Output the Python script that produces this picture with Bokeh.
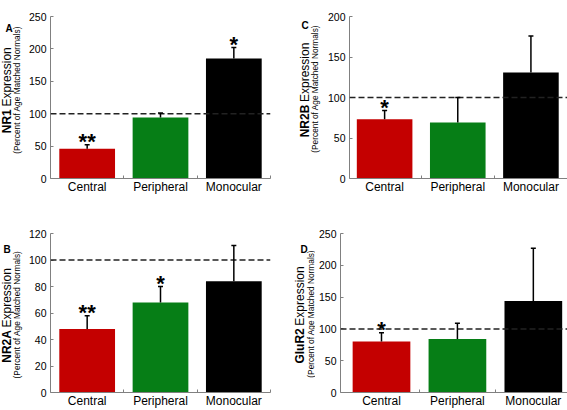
import math
from bokeh.plotting import figure
from bokeh.layouts import column, row
from bokeh.models import (ColumnDataSource, Range1d, FixedTicker, Span,
                          Whisker, TeeHead)
from bokeh.core.properties import value
from bokeh.embed import file_html
from bokeh.resources import INLINE

# ---------------- data ----------------
categories = ["Central", "Peripheral", "Monocular"]
bar_colors = ["#c40000", "#067e16", "#000000"]
reference_level = 100

nr1_mean = [46, 94, 185]
nr1_upper = [52, 101, 202]
nr1_stars = ["**", "", "*"]
nr1_ticks = [0, 50, 100, 150, 200, 250]

nr2a_mean = [48, 68, 84]
nr2a_upper = [58, 80, 111]
nr2a_stars = ["**", "*", ""]
nr2a_ticks = [0, 20, 40, 60, 80, 100, 120]

nr2b_mean = [73, 69, 131]
nr2b_upper = [84, 100, 176]
nr2b_stars = ["*", "", ""]
nr2b_ticks = [0, 50, 100, 150, 200]

glur2_mean = [80, 84, 144]
glur2_upper = [94, 109, 227]
glur2_stars = ["*", "", ""]
glur2_ticks = [0, 50, 100, 150, 200, 250]

subtitle = "(Percent of Age Matched Normals)"
word = "Expression"

FONT = "Liberation Sans"
AXIS_GRAY = "#808080"

# approximate Arial / Liberation Sans advance widths (em)
BOLD_W = {"N": .722, "R": .722, "1": .556, "2": .556, "A": .722, "B": .722,
          "G": .778, "l": .278, "u": .611}
REG_W = {"E": .667, "x": .5, "p": .556, "r": .333, "e": .556, "s": .5,
         "i": .222, "o": .556, "n": .556, " ": .278}


def text_width(s, table, size):
    return sum(table.get(c, .556) for c in s) * size


def bare_fig(width, height):
    f = figure(width=width, height=height, output_backend="svg",
               toolbar_location=None, tools="",
               x_range=Range1d(0, width), y_range=Range1d(0, height),
               x_axis_location=None, y_axis_location=None,
               min_border_left=0, min_border_right=0,
               min_border_top=0, min_border_bottom=0)
    f.outline_line_color = None
    f.background_fill_color = "white"
    f.border_fill_color = "white"
    f.xgrid.visible = False
    f.ygrid.visible = False
    f.grid.grid_line_color = None
    return f


def label_fig(width, height, receptor, frame_bottom, fh, main_x, sub_x,
              letter, letter_x, letter_top):
    f = bare_fig(width, height)
    main_size = 12
    bw = text_width(receptor, BOLD_W, main_size)
    sw = text_width(" ", REG_W, main_size)
    ew = text_width(word, REG_W, main_size)
    yc = frame_bottom + fh / 2
    ysplit = yc - (bw + sw + ew) / 2 + bw
    f.text(x=[main_x], y=[ysplit], text=[receptor], angle=math.pi / 2,
           text_font=value(FONT), text_font_size=f"{main_size}px",
           text_font_style="bold", text_align="right",
           text_baseline="middle", text_color="black")
    f.text(x=[main_x], y=[ysplit + sw], text=[word], angle=math.pi / 2,
           text_font=value(FONT), text_font_size=f"{main_size}px",
           text_align="left", text_baseline="middle", text_color="black")
    f.text(x=[sub_x], y=[yc + 5], text=[subtitle], angle=math.pi / 2,
           text_font=value(FONT), text_font_size="8.3px",
           text_align="center", text_baseline="middle", text_color="black")
    f.text(x=[letter_x], y=[height - letter_top], text=[letter],
           text_font=value(FONT), text_font_size="10px",
           text_font_style="bold", text_align="left",
           text_baseline="top", text_color="black")
    return f


def bar_fig(mean, upper, stars, ticks, width, height, left, right, top,
            bottom, x_start, x_end):
    p = figure(width=width, height=height, output_backend="svg",
               toolbar_location=None, tools="",
               x_range=Range1d(x_start, x_end),
               y_range=Range1d(0, ticks[-1]),
               min_border_left=left, min_border_right=right,
               min_border_top=top, min_border_bottom=bottom)
    p.outline_line_color = None
    p.xgrid.visible = False
    p.ygrid.visible = False
    p.background_fill_color = "white"
    p.border_fill_color = "white"

    xs = [i + 0.5 for i in range(len(categories))]
    src = ColumnDataSource(dict(x=xs, mean=mean, upper=upper,
                                stars=stars, color=bar_colors))

    p.vbar(x="x", top="mean", bottom=0, width=0.76, source=src,
           fill_color="color", line_color=None)

    p.add_layout(Span(location=reference_level, dimension="width",
                      line_color="#222222", line_width=1.5,
                      line_dash="6 3", level="overlay"))

    p.add_layout(Whisker(base="x", upper="upper", lower="mean", source=src,
                         line_color="black", line_width=1.5,
                         lower_head=None,
                         upper_head=TeeHead(size=5, line_width=1.5,
                                            line_color="black"),
                         level="overlay"))

    p.text(x="x", y="upper", text="stars", source=src,
           text_font=value(FONT), text_font_size="22px",
           text_font_style="bold", text_align="center",
           text_baseline="alphabetic", y_offset=-3, text_color="black")

    ya = p.yaxis[0]
    ya.ticker = FixedTicker(ticks=ticks, minor_ticks=[])
    ya.axis_line_color = AXIS_GRAY
    ya.major_tick_line_color = AXIS_GRAY
    ya.major_tick_in = 3
    ya.major_tick_out = 0
    ya.minor_tick_line_color = None
    ya.major_label_standoff = 4
    ya.major_label_text_font = FONT
    ya.major_label_text_font_size = "10.5px"
    ya.major_label_text_color = "black"

    xa = p.xaxis[0]
    xa.ticker = FixedTicker(ticks=xs, minor_ticks=[1, 2, 3])
    xa.major_label_overrides = {x: c for x, c in zip(xs, categories)}
    xa.axis_line_color = AXIS_GRAY
    xa.major_tick_line_color = None
    xa.major_tick_in = 0
    xa.major_tick_out = 0
    xa.minor_tick_line_color = AXIS_GRAY
    xa.minor_tick_in = 3
    xa.minor_tick_out = 0
    xa.major_label_standoff = 1
    xa.major_label_text_font = FONT
    xa.major_label_text_font_size = "12px"
    xa.major_label_text_color = "black"
    return p


# ---- panel A (top-left) ----
H1, H2 = 205, 205
lA = label_fig(24, H1, "NR1", 25, H1 - 16 - 25, 6, 16.5, "A", 5, 8)
pA = bar_fig(nr1_mean, nr1_upper, nr1_stars, nr1_ticks,
             259, H1, 26, 13, 16, 25, 0, 3)
# ---- panel C (top-right) ----
lC = label_fig(38, H1, "NR2B", 27, H1 - 15 - 27, 21.5, 31, "C", 18, 4)
pC = bar_fig(nr2b_mean, nr2b_upper, nr2b_stars, nr2b_ticks,
             246, H1, 28, 0, 15, 27, 0.02, 3.0)
# ---- panel B (bottom-left) ----
lB = label_fig(24, H2, "NR2A", 14, H2 - 28 - 14, 6, 16.5, "B", 3, 13)
pB = bar_fig(nr2a_mean, nr2a_upper, nr2a_stars, nr2a_ticks,
             259, H2, 26, 13, 28, 14, 0, 3)
# ---- panel D (bottom-right) ----
lD = label_fig(32, H2, "GluR2", 14, H2 - 26 - 14, 16, 27, "D", 17, 13)
pD = bar_fig(glur2_mean, glur2_upper, glur2_stars, glur2_ticks,
             252, H2, 25, 0, 26, 14, -0.04, 2.95)

layout = column(row(lA, pA, lC, pC), row(lB, pB, lD, pD))

open("out.html", "w").write(file_html(layout, INLINE))
